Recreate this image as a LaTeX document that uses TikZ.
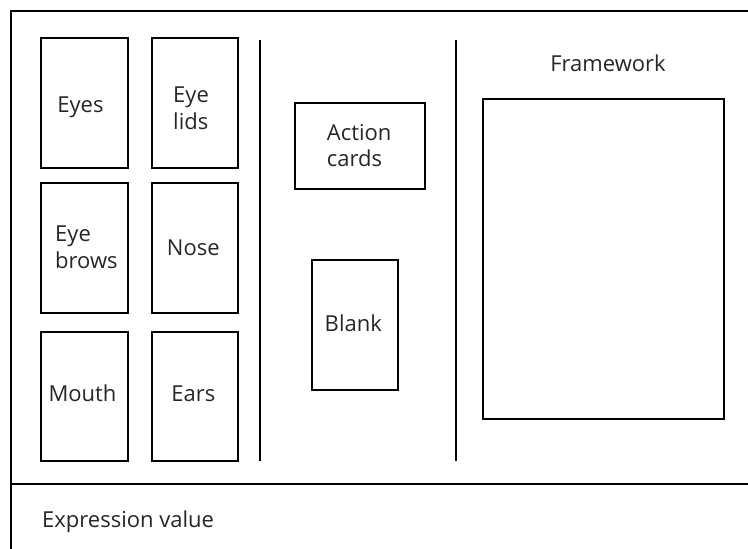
\documentclass[tikz,border=0pt]{standalone}
\usepackage{fontspec}
\setmainfont{Open Sans}
\begin{document}
\begin{tikzpicture}[x=1pt,y=-1pt,
  line/.style={draw=black,line width=2pt},
  card/.style={line, inner sep=0pt},
  lbl/.style={font=\fontsize{22}{26.5}\selectfont, align=left, text=black!85, inner sep=0pt, anchor=base},
  lblw/.style={lbl, anchor=base west}]
\useasboundingbox (0,0) rectangle (748,549);
% outer frame, cut off on the right and bottom
\draw[line] (760,11) -- (11,11) -- (11,560);
\coordinate (sepL) at (11,484);
\coordinate (sepR) at (760,484);
\draw[line] (sepL) -- (sepR);
% face part cards
\node[card, minimum width=87, minimum height=130] (eyes) at (84.5,103) {};
\node[card, minimum width=86, minimum height=130] (lids) at (195,103) {};
\node[card, minimum width=87, minimum height=130] (brows) at (84.5,248) {};
\node[card, minimum width=86, minimum height=130] (nose) at (195,248) {};
\node[card, minimum width=87, minimum height=129] (mouth) at (84.5,396.5) {};
\node[card, minimum width=86, minimum height=129] (ears) at (195,396.5) {};
% labels (multi-line labels are placed by the baseline of their last line)
\node[lbl] (teyes) at (80.5,112.7) {Eyes};
\node[lblw] (tlids) at (173,129) {Eye\\lids};
\node[lblw] (tbrows) at (55,268) {Eye\\brows};
\node[lbl] (tnose) at (193.3,255) {Nose};
\node[lbl] (tmouth) at (82.5,401.7) {Mouth};
\node[lbl] (tears) at (193.3,401.7) {Ears};
% column dividers
\coordinate (d1t) at (260,40); \coordinate (d1b) at (260,461);
\coordinate (d2t) at (456,40); \coordinate (d2b) at (456,461);
\draw[line] (d1t) -- (d1b);
\draw[line] (d2t) -- (d2b);
% middle column
\node[card, minimum width=130, minimum height=86] (action) at (360,146) {};
\node[lblw] (taction) at (326.7,166.7) {Action\\cards};
\node[card, minimum width=86, minimum height=130] (blank) at (355,325) {};
\node[lbl] (tblank) at (353.3,331.7) {Blank};
% framework area
\node[lbl] (fwtitle) at (608,71.7) {Framework};
\node[card, minimum width=241, minimum height=320] (framework) at (603.5,259) {};
% bottom strip
\node[lblw] (expr) at (42,527.3) {Expression value};
\end{tikzpicture}
\end{document}
